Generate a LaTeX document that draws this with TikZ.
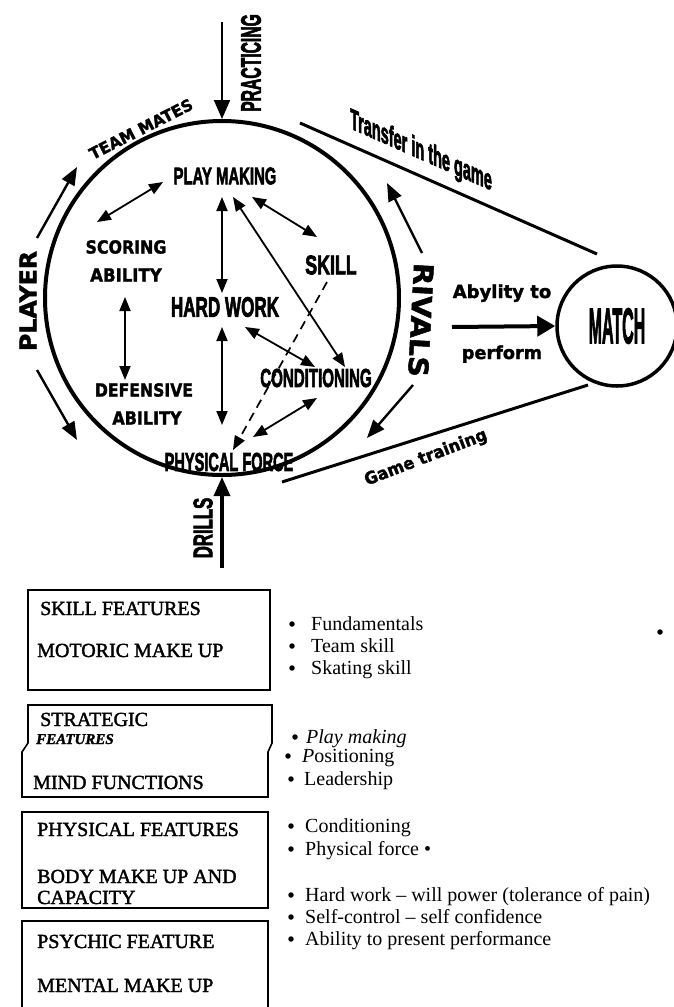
\documentclass[tikz,border=0pt]{standalone}
\usepackage{fontspec}
\usepackage{graphicx}
\setmainfont{Liberation Serif}
\newfontfamily\condfont{Liberation Sans}[BoldFeatures={FakeBold=3}]
\newfontfamily\widefont{DejaVu Sans}[BoldFeatures={FakeBold=1.8}]
\newfontfamily\boxfont{Liberation Serif}[FakeBold=1.8]
\usetikzlibrary{arrows.meta}

% condensed heavy label: size, horizontal squeeze, text
\newcommand\cnd[3]{{\condfont\bfseries\fontsize{#1}{#1}\selectfont\scalebox{#2}[1]{#3}}}
% wide heavy label: size, horizontal stretch, text
\newcommand\wde[3]{{\widefont\bfseries\fontsize{#1}{#1}\selectfont\scalebox{#2}[1]{#3}}}

\begin{document}
\begin{tikzpicture}[x=1pt,y=-1pt,
  >={Triangle[length=14pt,width=11pt]},
  link/.style={line width=1.8pt,<->},
  hint/.style={line width=1.7pt,dash pattern=on 9pt off 6pt,->},
  flow/.style={line width=2.4pt,-{Triangle[length=18pt,width=14pt]}},
  rim/.style={line width=3pt},
  lbl/.style={inner sep=0pt},
  boxtext/.style={anchor=base west,inner sep=0pt,font=\boxfont\fontsize{20}{20}\selectfont},
  itemtext/.style={anchor=base west,inner sep=0pt,font=\fontsize{20}{20}\selectfont},
  bulletmark/.style={circle,fill,inner sep=0pt,minimum size=5.5pt},
  framebox/.style={line width=1.6pt},
]
\useasboundingbox (0,0) rectangle (674,1007);

% ---------- the training cycle ----------
\node[circle,draw,line width=4pt,minimum size=354pt,inner sep=0pt] (field) at (222,298) {};
\node[circle,draw,line width=3.5pt,minimum size=120pt,inner sep=0pt] (match) at (617,326) {\raisebox{-4pt}{\cnd{50}{0.32}{MATCH}}};

% labels inside the circle
\node[lbl] (pm)   at (225,176) {\cnd{24}{0.62}{PLAY MAKING}};
\node[lbl] (hw)   at (225,307) {\cnd{28}{0.61}{HARD WORK}};
\node[lbl] (sk)   at (331,265) {\cnd{27}{0.66}{SKILL}};
\node[lbl] (cond) at (316,378) {\cnd{26}{0.58}{CONDITIONING}};
\node[lbl] (pf)   at (229,462) {\cnd{26}{0.56}{PHYSICAL FORCE}};
\node[lbl] (sc)   at (126,247) {\wde{18}{0.88}{SCORING}};
\node[lbl] (sca)  at (126,275) {\wde{18}{0.92}{ABILITY}};
\node[lbl] (df)   at (144,390) {\wde{18}{0.87}{DEFENSIVE}};
\node[lbl] (dfa)  at (147,418) {\wde{18}{0.89}{ABILITY}};

% labels around the circle
\node[lbl,rotate=90] (prac) at (251,63) {\cnd{28}{0.56}{PRACTICING}};
\node[lbl,rotate=90] (drl)  at (203,528) {\cnd{27}{0.62}{DRILLS}};
\node[lbl,rotate=27] (tm)   at (141,129) {\wde{16}{0.98}{TEAM MATES}};
\node[lbl,rotate=90] (ply)  at (28,301) {\wde{23}{1.03}{PLAYER}};
\node[lbl,rotate=-93] (riv) at (421,320) {\wde{27}{1.06}{RIVALS}};
\node[lbl,yslant=-0.44] (trf) at (421,152) {\cnd{29}{0.5}{Transfer in the game}};
\node[lbl,rotate=21] (gtr)  at (426,458) {\wde{17}{0.95}{Game training}};
\node[lbl,anchor=base] (aby) at (502,298) {\wde{18}{1.0}{Abylity to}};
\node[lbl,anchor=base] (prf) at (502,359) {\wde{18}{0.98}{perform}};

% end points of the connectors
\coordinate (pm-sc) at (163,182);  \coordinate (sc-pm) at (97,222);
\coordinate (pm-hw) at (222,197);  \coordinate (hw-pm) at (222,293);
\coordinate (pm-cd) at (233,197);  \coordinate (cd-pm) at (345,367);
\coordinate (pm-sk) at (252,197);  \coordinate (sk-pm) at (317,237);
\coordinate (sc-df) at (125,297);  \coordinate (df-sc) at (125,380);
\coordinate (hw-pf) at (222,327);  \coordinate (pf-hw) at (222,425);
\coordinate (hw-cd) at (245,327);  \coordinate (cd-hw) at (315,367);
\coordinate (cd-pf) at (317,398);  \coordinate (pf-cd) at (253,437);
\coordinate (sk-pf) at (327,282);  \coordinate (pf-sk) at (233,450);
\coordinate (prac-in) at (222,22);
\coordinate (drl-in)  at (222,568);
\coordinate (tm-a) at (37,238);   \coordinate (tm-b) at (77,167);
\coordinate (pl-a) at (37,370);   \coordinate (pl-b) at (77,440);
\coordinate (rv-a) at (422,253);  \coordinate (rv-b) at (387,183);
\coordinate (rv-c) at (413,385);  \coordinate (rv-d) at (367,438);
\coordinate (aby-a) at (452,327);
\coordinate (trf-a) at (300,123); \coordinate (trf-b) at (597,254);
\coordinate (gtr-a) at (282,482); \coordinate (gtr-b) at (588,385);

% relations inside the circle
\draw[link] (pm-sc) -- (sc-pm);
\draw[link] (pm-hw) -- (hw-pm);
\draw[link] (pm-cd) -- (cd-pm);
\draw[link] (pm-sk) -- (sk-pm);
\draw[link] (sc-df) -- (df-sc);
\draw[link] (hw-pf) -- (pf-hw);
\draw[link] (hw-cd) -- (cd-hw);
\draw[link] (cd-pf) -- (pf-cd);
\draw[hint] (sk-pf) -- (pf-sk);

% inputs and surroundings
\draw[line width=2pt,-{Triangle[length=19pt,width=16pt]}] (prac-in) -- (field.north);
\draw[line width=3.5pt,-{Triangle[length=19pt,width=16pt]}] (drl-in) -- (field.south);
\draw[flow] (tm-a) -- (tm-b);
\draw[flow] (pl-a) -- (pl-b);
\draw[flow] (rv-a) -- (rv-b);
\draw[flow] (rv-c) -- (rv-d);
\draw[line width=4pt,-{Triangle[length=18pt,width=20pt]}] (aby-a) -- (match.west);
\draw[rim] (trf-a) -- (trf-b);
\draw[rim] (gtr-a) -- (gtr-b);

% ---------- feature boxes ----------
\draw[framebox] (28,590) rectangle (270,690);
\draw[framebox] (28,705) -- (272,705) -- (272,743) -- (268,752) -- (268,797)
  -- (22,797) -- (22,752) -- (28,743) -- cycle;
\draw[framebox] (22,812) rectangle (268,908);
\draw[framebox] (22,1012) -- (22,921) -- (268,921) -- (268,1012);

\node[boxtext] (t1) at (40,615) {SKILL FEATURES};
\node[boxtext] (t2) at (37,657) {MOTORIC MAKE UP};
\node[boxtext] (t3) at (40,726) {STRATEGIC};
\node[boxtext,font=\boxfont\fontsize{15}{15}\selectfont\bfseries\itshape] (t4) at (36,744) {FEATURES};
\node[boxtext] (t5) at (33,789) {MIND FUNCTIONS};
\node[boxtext] (t6) at (37,836) {PHYSICAL FEATURES};
\node[boxtext] (t7) at (37,883) {BODY MAKE UP AND};
\node[boxtext] (t8) at (37,904) {CAPACITY};
\node[boxtext] (t9) at (37,948) {PSYCHIC FEATURE};
\node[boxtext] (t10) at (37,992) {MENTAL MAKE UP};

% bullet lists
\node[bulletmark] (d1) at (292,624) {};  \node[itemtext] (i1) at (311,630) {Fundamentals};
\node[bulletmark] (d2) at (292,646) {};  \node[itemtext] (i2) at (311,652) {Team skill};
\node[bulletmark] (d3) at (292,668) {};  \node[itemtext] (i3) at (311,674) {Skating skill};
\node[bulletmark] (d0) at (660,632) {};
\node[bulletmark] (d4) at (295,737) {};  \node[itemtext] (i4) at (306,743) {\itshape Play making};
\node[bulletmark] (d5) at (288,756) {};  \node[itemtext] (i5) at (302,762) {\textit{P}ositioning};
\node[bulletmark] (d6) at (291,779) {};  \node[itemtext] (i6) at (304,785) {Leadership};
\node[bulletmark] (d7) at (291,826) {};  \node[itemtext] (i7) at (305,832) {Conditioning};
\node[bulletmark] (d8) at (291,849) {};  \node[itemtext] (i8) at (305,855) {Physical force \textbullet};
\node[bulletmark] (d9) at (291,895) {};  \node[itemtext] (i9) at (305,901) {Hard work -- will power (tolerance of pain)};
\node[bulletmark] (d10) at (291,917) {}; \node[itemtext] (i10) at (305,923) {Self-control -- self confidence};
\node[bulletmark] (d11) at (291,939) {}; \node[itemtext] (i11) at (305,945) {Ability to present performance};
\end{tikzpicture}
\end{document}
